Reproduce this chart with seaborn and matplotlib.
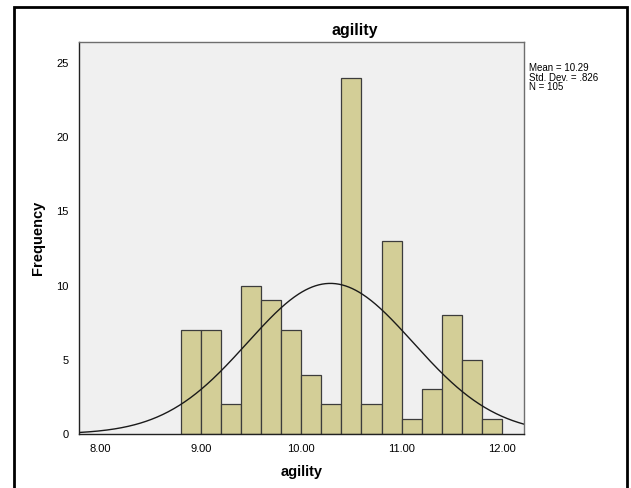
import numpy as np
import pandas as pd
import matplotlib
matplotlib.use("Agg")
import matplotlib.pyplot as plt
import seaborn as sns
from matplotlib.patches import Rectangle

# histogram of agility scores (bin centres and counts)
bin_centers = [8.9, 9.1, 9.3, 9.5, 9.7, 9.9, 10.1, 10.3,
               10.5, 10.7, 10.9, 11.1, 11.3, 11.5, 11.7, 11.9]
counts = [7, 7, 2, 10, 9, 7, 4, 2, 24, 2, 13, 1, 3, 8, 5, 1]
bin_edges = [8.8, 9.0, 9.2, 9.4, 9.6, 9.8, 10.0, 10.2, 10.4,
             10.6, 10.8, 11.0, 11.2, 11.4, 11.6, 11.8, 12.0]
x_ticks = [8.0, 9.0, 10.0, 11.0, 12.0]
y_ticks = [0, 5, 10, 15, 20, 25]

mean_val = 10.29
sd_val = 0.826
n_val = 105
bin_width = 0.2

df = pd.DataFrame({"agility": bin_centers, "count": counts})

sns.set_style("white")
plt.rcParams["font.family"] = ["Liberation Sans", "DejaVu Sans"]
plt.rcParams["text.color"] = "black"
plt.rcParams["axes.labelcolor"] = "black"
plt.rcParams["xtick.color"] = "black"
plt.rcParams["ytick.color"] = "black"

fig = plt.figure(figsize=(6.31, 4.88), dpi=100)
ax = fig.add_axes([79 / 631, 54 / 488, 445 / 631, 392 / 488])
ax.set_facecolor("#f0f0f0")

sns.histplot(data=df, x="agility", weights="count", bins=bin_edges,
             color="#d3ce97", alpha=1, edgecolor="#3c3c3c", linewidth=0.9, ax=ax)

# fitted normal curve
xs = np.linspace(7.785, 12.22, 400)
ys = n_val * bin_width * np.exp(-0.5 * ((xs - mean_val) / sd_val) ** 2) / (sd_val * np.sqrt(2 * np.pi))
sns.lineplot(x=xs, y=ys, color="#1a1a1a", linewidth=1.0, ax=ax)

ax.set_xlim(7.785, 12.22)
ax.set_ylim(0, 26.4)
ax.set_xticks(x_ticks)
ax.set_xticklabels([f"{t:.2f}" for t in x_ticks], fontsize=8)
ax.set_yticks(y_ticks)
ax.set_yticklabels([str(t) for t in y_ticks], fontsize=8)
ax.tick_params(axis="both", direction="out", length=5, width=1, color="#222222", pad=2)
ax.tick_params(axis="y", length=6.5, pad=1)

for side in ["top", "right"]:
    ax.spines[side].set_color("#6e6e6e")
    ax.spines[side].set_linewidth(1.0)
for side in ["left", "bottom"]:
    ax.spines[side].set_color("#222222")
    ax.spines[side].set_linewidth(1.0)

ax.set_xlabel("agility", fontsize=10.5, fontweight="bold", va="center")
ax.xaxis.set_label_coords(0.5, -(472 - 434) / 392)
ax.set_ylabel("Frequency", fontsize=10.5, fontweight="bold", va="center")
ax.yaxis.set_label_coords(-(79 - 38.5) / 445, 0.5)

fig.text(355 / 631, 1 - 30 / 488, "agility", fontsize=11.5, fontweight="bold",
         ha="center", va="center")
fig.text(529 / 631, 1 - 63 / 488,
         f"Mean = {mean_val:.2f}\nStd. Dev. = .826\nN = {n_val}",
         fontsize=7, ha="left", va="top", linespacing=0.95)

# outer frame like the SPSS output viewer
fig.patches.append(Rectangle((14 / 631, -0.05), 613 / 631, 1 - 7 / 488 + 0.05,
                             transform=fig.transFigure, fill=False,
                             edgecolor="black", linewidth=2.0))

fig.savefig("out.png", dpi=100)
